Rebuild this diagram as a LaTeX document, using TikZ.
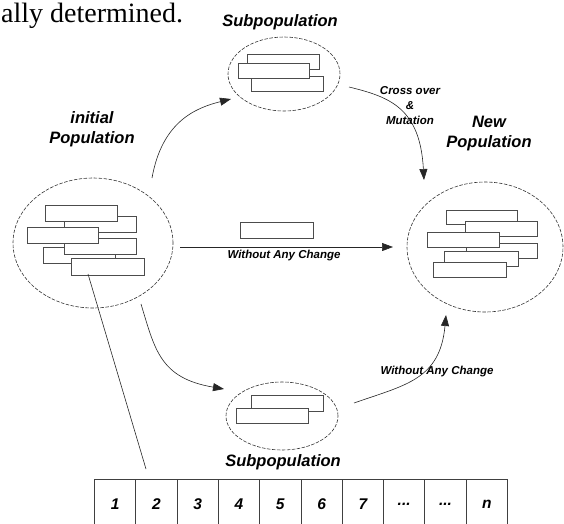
\documentclass[tikz,border=0pt]{standalone}
\usepackage{fontspec}
\setmainfont{Liberation Serif}
\newfontfamily\lsans{Liberation Sans}
\usetikzlibrary{shapes.geometric,arrows.meta}
\begin{document}
\begin{tikzpicture}[x=1pt,y=-1pt,
  pop/.style={ellipse,draw=black!80,line width=0.6pt,dash pattern=on 3.5pt off 1.5pt,inner sep=0pt},
  chrom/.style={draw=black!70,fill=white,line width=0.9pt},
  lbl/.style={font=\lsans\bfseries\itshape\fontsize{16.5}{20}\selectfont,align=center,inner sep=0pt},
  small/.style={font=\lsans\bfseries\itshape\fontsize{11.5}{15}\selectfont,align=center,inner sep=0pt},
  conn/.style={line width=0.6pt,draw=black!85},
  tip/.style={-{Triangle[length=11pt,width=8pt]}},
  cell/.style={draw=black!75,line width=0.9pt,minimum width=41.3pt,minimum height=50pt,inner sep=0pt,anchor=north west,font=\lsans\bfseries\itshape\fontsize{15.5}{18}\selectfont}
]
\useasboundingbox (0,0) rectangle (564,523);

% top text line
\node[anchor=base west,inner sep=0pt,font=\fontsize{28}{32}\selectfont] (txt) at (1,22) {ally determined.};

% ellipses
\node[pop,minimum width=112pt,minimum height=74pt] (sub1) at (284,74) {};
\node[pop,minimum width=160pt,minimum height=130pt] (init) at (93,243) {};
\node[pop,minimum width=156pt,minimum height=130pt] (newp) at (485,247) {};
\node[pop,minimum width=112pt,minimum height=68pt] (sub2) at (282,416) {};

% labels
\node[lbl,anchor=base] (l1) at (280,26) {Subpopulation};
\node[lbl,anchor=base] (l2) at (92,143) {initial\\Population};
\node[lbl,anchor=base] (l3) at (489,147) {New\\Population};
\node[lbl,anchor=base] (l4) at (283,466) {Subpopulation};

% chromosomes in top subpopulation
\filldraw[chrom] (247,54) rectangle (319,69);
\filldraw[chrom] (251,76) rectangle (323,91);
\filldraw[chrom] (238,63) rectangle (309,78);

% chromosomes in initial population
\filldraw[chrom] (64,216) rectangle (136,232);
\filldraw[chrom] (45,205) rectangle (117,221);
\filldraw[chrom] (43,247) rectangle (115,263);
\filldraw[chrom] (64,238) rectangle (136,254);
\filldraw[chrom] (27,227) rectangle (98,243);
\filldraw[chrom] (71,258) rectangle (144,275);

% middle chromosome
\filldraw[chrom] (240,222) rectangle (313,238);

% chromosomes in new population
\filldraw[chrom] (446,210) rectangle (517,224);
\filldraw[chrom] (465,221) rectangle (537,236);
\filldraw[chrom] (466,243) rectangle (537,258);
\filldraw[chrom] (427,232) rectangle (499,247);
\filldraw[chrom] (444,251) rectangle (518,266);
\filldraw[chrom] (433,262) rectangle (506,277);

% chromosomes in bottom subpopulation
\filldraw[chrom] (251,395) rectangle (323,411);
\filldraw[chrom] (236,408) rectangle (308,423);

% table
\node[cell] (c1) at (94,479) {1};
\node[cell] (c2) at (135.3,479) {2};
\node[cell] (c3) at (176.6,479) {3};
\node[cell] (c4) at (217.9,479) {4};
\node[cell] (c5) at (259.2,479) {5};
\node[cell] (c6) at (300.5,479) {6};
\node[cell] (c7) at (341.8,479) {7};
\node[cell] (c8) at (383.1,479) {...};
\node[cell] (c9) at (424.4,479) {...};
\node[cell] (c10) at (465.7,479) {n};

% connector coordinates
\coordinate (a1s) at (152,178);
\coordinate (a1e) at (231,99);
\coordinate (a2s) at (349,87);
\coordinate (a2e) at (424,180);
\coordinate (a3s) at (180,247);
\coordinate (a3e) at (393,247);
\coordinate (a4s) at (141,304);
\coordinate (a4e) at (224,389);
\coordinate (a5s) at (354,403);
\coordinate (a5e) at (446,315);
\coordinate (a6s) at (88,274);
\coordinate (a6e) at (146,469);

% connectors
\draw[conn,tip] (a1s) .. controls (162,122) and (195,108) .. (a1e);
\draw[conn,tip] (a2s) .. controls (390,97) and (420,108) .. (a2e);
\draw[conn,tip] (a3s) -- (a3e);
\draw[conn,tip] (a4s) .. controls (155,350) and (160,378) .. (a4e);
\draw[conn,tip] (a5s) .. controls (405,385) and (440,380) .. (a5e);
\draw[conn] (a6s) -- (a6e);

% connector labels
\node[small] (t1) at (410,106) {Cross over\\\&\\Mutation};
\node[small] (t2) at (284,256) {Without Any Change};
\node[small] (t3) at (437,372) {Without Any Change};
\end{tikzpicture}
\end{document}
